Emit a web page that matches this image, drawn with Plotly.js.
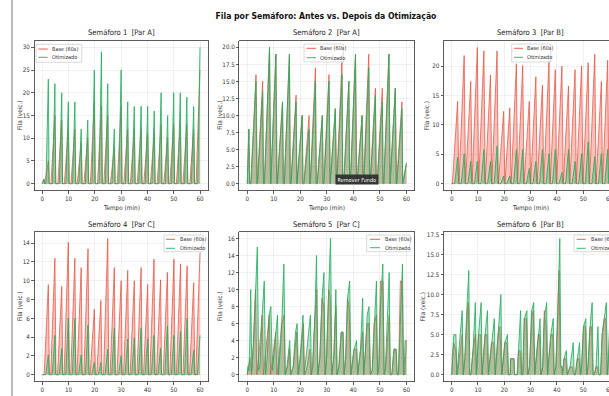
<!DOCTYPE html>
<html><head><meta charset="utf-8">
<script src="https://cdn.plot.ly/plotly-3.0.1.min.js"></script>
<style>html,body{margin:0;padding:0;overflow:hidden;background:#fff;width:609px;height:396px}#chart{width:650px;height:420px}</style>
</head><body><div id="chart"></div><script>
// ---------- data ----------
const seriesNames = ["Base (60s)", "Otimizado"];
const panelTitles = ["Semáforo 1 \u00a0[Par A]", "Semáforo 2 \u00a0[Par A]", "Semáforo 3 \u00a0[Par B]",
                     "Semáforo 4 \u00a0[Par C]", "Semáforo 5 \u00a0[Par C]", "Semáforo 6 \u00a0[Par B]"];
const xTicks = [0, 10, 20, 30, 40, 50, 60];

// Panel 1: peak times (min) and peak queue per cycle
const t1 = [0.6,2.3,4.8,7.4,9.9,12.4,14.8,17.3,19.8,22.5,24.9,27.4,30.0,32.5,35.0,37.6,40.1,42.6,45.2,47.7,50.0,52.5,55.0,57.6,60.0];
const base1 = [1,5,15,14,12,12,9,10,18,17,15,8,17,12,12,12,11,11,13,10,13,13,13,12,25];
const opt1  = [1,23,22,20,18,18,12,14,25,29,22,12,25,18,17,17,17,16,20,15,20,20,19,17,30];

// Panel 2
const t2 = [0.6,3.3,5.8,8.4,10.8,13.3,15.9,18.4,20.7,23.3,25.7,28.3,30.8,33.2,35.7,38.3,40.8,43.3,45.8,48.3,50.9,53.4,55.8,58.3,60.0];
const base2 = [8,16,15,20,19,12,19,13,10,10,17,10,16,11,18,15,19,10,19,14,14,19,14,12,3];
const opt2  = [8,15,13.5,20,19,12,19,12,10,8,15,10,15,11,16,15,19,10,17,13,12,19,14,11,3];

// Panel 3
const t3 = [2.25,4.75,7.25,9.75,12.25,14.75,17.25,19.75,22.1,24.6,27.0,29.5,32.0,34.5,37.0,39.4,41.9,44.4,46.9,49.4,51.9,54.4,56.9,59.3];
const base3 = [14,21.8,17.4,23.2,22.6,18.5,22.6,12.3,12.9,20.4,20.1,14,18.2,16.8,21,19.4,20,16.6,19.4,20,20.6,22,17.4,21];
const opt3  = [4.5,5.1,3.8,3.8,5.8,3.8,6.4,1.3,1.3,5.8,5.8,2.6,3.8,5.8,5.1,5.8,1.9,5.8,3.8,5.1,7.1,4.6,5.1,5.8];

// Panel 4
const t4 = [2.3,4.8,7.4,9.9,12.4,14.8,17.4,19.8,22.3,24.9,27.4,30.0,32.5,35.0,37.6,40.1,42.5,45.0,47.6,50.1,52.6,55.1,57.6,60.0];
const base4 = [9.6,12.4,9.4,14.1,12.4,11.4,13.4,7.0,7.9,14.5,11.4,10,11.1,10,11.4,9.6,12.3,10.1,10.9,12.3,11.8,11.6,9.8,13];
const opt4  = [2.1,4.2,2.8,6.0,6.0,2.1,5.3,1.3,1.3,2.7,5.0,2.0,3.8,3.9,5.0,3.8,4.2,2.8,5.2,4.2,4.6,6.0,2.6,4.2];

// Panel 5: irregular, [time, queue] vertices
const base5 = [[0,0],[0.5,1],[1.0,2],[1.6,0],[2.2,3],[3.1,10],[3.6,0],[4.6,3],[5.6,7],[6.1,0],[6.8,2],[7.6,5],[8.3,7],[8.8,0],[9.6,2],[10.7,5],[11.2,0],[12.0,2],[12.9,6],[13.9,7],[14.3,0],[15.2,1],[16.0,3],[16.3,0],[17.4,1],[18.6,5],[19.1,0],[19.9,2],[21.2,6],[21.6,0],[22.6,1],[23.6,3],[24.0,0],[24.6,1],[25.5,7],[26.2,10],[26.6,0],[27.3,2],[28.2,9],[28.9,8],[29.3,0],[29.9,2],[30.7,10],[31.3,9],[31.8,0],[32.6,2],[33.4,8],[33.8,0],[34.5,1],[35.4,5],[36.1,5],[36.5,0],[37.1,2],[37.8,9],[38.4,8],[39.0,0],[40.2,3],[41.2,3],[41.6,0],[42.6,3],[43.5,5],[43.9,0],[44.4,2],[45.2,6],[45.9,6],[46.4,0],[47.1,0.5],[47.8,6],[48.7,7],[49.1,0],[49.6,1],[50.2,11],[51.1,11],[51.6,0],[52.2,1],[53.5,7],[53.9,0],[54.5,0],[55.3,3],[56.1,3],[56.5,0],[57.0,0],[57.7,11],[58.4,11],[58.9,0],[59.4,0],[60,4]];
const opt5 = [[0,0],[0.3,1],[0.6,0.5],[0.9,3],[1.3,10],[1.7,0.5],[2.4,4],[3.0,8],[3.8,15],[4.3,0.5],[4.8,1],[5.6,7],[6.4,11],[6.9,0],[7.5,2],[8.2,7],[8.9,8],[9.5,0.5],[9.9,2],[10.7,5],[11.4,7],[11.8,0],[12.2,2],[12.9,5],[13.8,13],[14.3,0],[15.0,1],[16.0,4],[16.4,0],[17.3,1],[18.2,5],[18.8,6],[19.3,0],[20.0,2],[21.0,7],[21.4,0],[22.5,3],[23.8,7],[24.2,0],[24.7,1],[25.5,7],[26.1,14],[26.6,0],[27.4,2],[28.2,9],[28.9,12],[29.4,0],[29.9,2],[30.7,10],[31.4,16],[31.9,0],[32.6,2],[33.4,10],[33.9,0],[34.6,1],[35.4,5],[36.1,5],[36.5,0],[37.1,2],[37.8,9],[38.6,11],[39.1,0],[40.3,3],[41.2,4],[41.6,0],[42.7,3],[43.5,9],[43.9,0],[44.4,2],[45.2,7],[45.9,8],[46.4,0],[47.1,0.5],[47.8,6],[48.7,11],[49.1,0],[49.6,1],[50.2,8],[51.1,13],[51.6,0],[52.1,1],[53.5,12],[53.9,0],[54.5,0],[55.3,3],[56.1,3],[56.5,0],[57.0,0],[57.7,6],[58.5,13],[58.9,0],[59.1,0],[59.5,4],[60,4]];

// Panel 6
const base6 = [[0,0],[0.2,1],[0.8,4],[1.6,3],[2.0,0],[2.5,1],[3.5,4],[4.0,5],[4.4,0],[5.0,2],[5.8,7],[6.3,9],[6.8,0],[7.3,0],[8.1,3],[9.0,5],[9.4,0],[10.2,5],[11.0,5],[11.5,0],[12.7,5],[13.4,5],[13.9,0],[15.1,4],[16.0,4],[16.5,0],[17.6,5],[18.3,6],[19.0,0],[20.2,4],[21.0,4],[21.5,0],[22.2,0],[22.4,2],[23.7,2],[23.9,0],[24.9,0],[25.4,3],[26.0,3],[26.5,0],[27.0,0],[27.6,7],[28.4,7],[28.9,0],[29.6,1],[30.4,7],[31.0,8],[31.5,0],[32.9,5],[33.5,5],[33.9,0],[34.6,1],[35.2,8],[35.9,6],[36.4,0],[37.7,5],[38.4,5],[38.9,0],[39.6,1],[40.2,6],[40.8,13],[41.3,1],[41.9,1],[42.1,0],[42.7,2],[43.4,2],[43.9,0],[45.0,1],[45.8,1],[46.5,0],[47.0,0],[47.7,2],[48.4,2],[48.9,0],[49.4,1],[50.1,6],[50.8,6],[51.3,0],[51.8,1],[52.6,6],[53.2,6],[53.7,0],[54.2,0],[54.9,1],[55.5,1],[55.9,0],[56.6,0],[57.2,5],[58.0,7],[58.6,7],[59.1,0],[59.6,2],[60,5]];
const opt6 = [[0,0],[0.2,2],[0.8,5],[1.6,5],[2.0,0],[2.5,2],[3.5,5],[4.0,8],[4.4,0],[5.0,2],[5.6,7],[6.5,13],[6.9,0],[7.3,0],[8.1,3],[9.0,9],[9.4,0],[10.2,5],[11.2,9],[11.6,0],[12.7,5],[13.6,8],[14.0,0],[15.1,4],[16.2,7],[16.6,0],[17.6,5],[18.7,10],[19.1,0],[20.2,4],[21.2,5],[21.6,0],[22.2,0],[22.4,2],[23.7,2],[23.9,0],[24.9,0],[25.4,3],[26.2,8],[26.6,0],[27.0,0],[27.6,7],[28.6,8],[29.0,0],[29.6,1],[30.4,8],[31.2,9],[31.6,0],[32.9,5],[33.6,7],[34.0,0],[34.6,1],[35.2,7],[36.1,9],[36.5,0],[37.7,5],[38.6,7],[39.0,0],[39.6,1],[40.2,6],[41.1,17],[41.5,1],[41.9,1],[42.1,0],[42.7,2],[43.6,3],[44.0,0],[45.0,1],[46.2,4],[46.6,0],[47.0,0],[47.7,2],[48.6,4],[49.0,0],[49.4,1],[50.1,6],[51.0,7],[51.4,0],[51.8,1],[52.6,6],[53.4,9],[53.8,0],[54.2,0],[54.9,1],[55.6,6],[56.0,0],[56.6,0],[57.2,5],[58.1,7],[58.8,9],[59.2,0],[59.6,2],[60,6]];

// ---------- styling / layout ----------
const W = 650, H = 420;
const FONT = "'Liberation Sans Narrow', 'DejaVu Sans Condensed', 'Liberation Sans', Arial, sans-serif";
const RED = 'rgba(231,76,60,0.72)', RED_F = 'rgba(231,76,60,0.34)';
const GRN = 'rgba(39,174,96,0.85)', GRN_F = 'rgba(39,174,96,0.32)';
const px = x => x / W, py = y => 1 - y / H;
const cols = [[34.4, 207.9], [239.3, 414.4], [443.8, 617.4]];
const rows = [[40.5, 190.5], [231.7, 381.5]];
const yCfg = [
  {range: [-1.5, 31.5], dtick: 5, fmt: 'd'},
  {range: [-1, 21], dtick: 2.5, fmt: '.1f'},
  {range: [-1.16, 24.36], dtick: 5, fmt: 'd'},
  {range: [-0.725, 15.225], dtick: 2, fmt: 'd'},
  {range: [-0.8, 16.8], dtick: 2, fmt: 'd'},
  {range: [-0.85, 17.85], dtick: 2.5, fmt: '.1f'}
];
const yLabelOffset = [15, 20, 17, 15, 20, 21];
// cycle shape per panel: [base rise, base fall, opt rise, opt fall] in minutes
const shapeCfg = [[1.5, 0.35, 0.9, 0.3], [2.0, 0.3, 1.9, 0.3], [2.0, 0.45, 1.1, 0.4], [1.6, 0.4, 1.0, 0.35]];

function cycles(times, peaks, rise, fall) {
  const x = [0], y = [0];
  for (let i = 0; i < times.length; i++) {
    const s = Math.max(times[i] - rise, x[x.length - 1]);
    x.push(s); y.push(0);
    x.push(times[i]); y.push(peaks[i]);
    if (times[i] + fall <= 60) { x.push(times[i] + fall); y.push(0); }
  }
  return {x, y};
}
const fromPairs = p => ({x: p.map(d => d[0]), y: p.map(d => d[1])});

const panels = [
  [cycles(t1, base1, shapeCfg[0][0], shapeCfg[0][1]), cycles(t1, opt1, shapeCfg[0][2], shapeCfg[0][3])],
  [cycles(t2, base2, shapeCfg[1][0], shapeCfg[1][1]), cycles(t2, opt2, shapeCfg[1][2], shapeCfg[1][3])],
  [cycles(t3, base3, shapeCfg[2][0], shapeCfg[2][1]), cycles(t3, opt3, shapeCfg[2][2], shapeCfg[2][3])],
  [cycles(t4, base4, shapeCfg[3][0], shapeCfg[3][1]), cycles(t4, opt4, shapeCfg[3][2], shapeCfg[3][3])],
  [fromPairs(base5), fromPairs(opt5)],
  [fromPairs(base6), fromPairs(opt6)]
];

const traces = [];
const layout = {
  width: W, height: H, margin: {l: 0, r: 0, t: 0, b: 0},
  paper_bgcolor: '#fff', plot_bgcolor: '#fff', showlegend: false,
  font: {family: FONT, color: '#262626'},
  title: {text: '<b>Fila por Semáforo: Antes vs. Depois da Otimização</b>', x: px(326), y: py(16),
          xanchor: 'center', yanchor: 'middle', font: {family: FONT, size: 8.6, color: '#111'}},
  annotations: [], shapes: []
};

panels.forEach((pn, i) => {
  const k = i + 1, sfx = k === 1 ? '' : String(k);
  const c = cols[i % 3], r = rows[Math.floor(i / 3)];
  const cfg = yCfg[i];
  traces.push({x: pn[0].x, y: pn[0].y, type: 'scatter', mode: 'lines', name: seriesNames[0],
    line: {color: RED, width: 1}, fill: 'tozeroy', fillcolor: RED_F, xaxis: 'x' + sfx, yaxis: 'y' + sfx});
  traces.push({x: pn[1].x, y: pn[1].y, type: 'scatter', mode: 'lines', name: seriesNames[1],
    line: {color: GRN, width: 1}, fill: 'tozeroy', fillcolor: GRN_F, xaxis: 'x' + sfx, yaxis: 'y' + sfx});
  const common = {showline: true, mirror: true, linecolor: '#333', linewidth: 0.8, ticks: 'outside', ticklen: 2.5,
    tickwidth: 0.8, tickcolor: '#333', showgrid: true, gridcolor: 'rgba(0,0,0,0.09)', gridwidth: 0.6,
    zeroline: false, automargin: false, tickfont: {family: FONT, size: 6.2, color: '#333'}};
  layout['xaxis' + sfx] = Object.assign({}, common, {domain: [px(c[0]), px(c[1])], range: [-3, 63],
    tickvals: xTicks, anchor: 'y' + sfx});
  layout['yaxis' + sfx] = Object.assign({}, common, {domain: [py(r[1]), py(r[0])], range: cfg.range,
    dtick: cfg.dtick, tick0: 0, tickformat: cfg.fmt, anchor: 'x' + sfx});
  const cx = (c[0] + c[1]) / 2;
  layout.annotations.push({text: panelTitles[i], xref: 'paper', yref: 'paper', x: px(cx), y: py(r[0] - 7.5),
    xanchor: 'center', yanchor: 'middle', showarrow: false, font: {family: FONT, size: 7.6, color: '#222'}});
  layout.annotations.push({text: 'Fila (veíc.)', xref: 'paper', yref: 'paper', x: px(c[0] - yLabelOffset[i]), y: py((r[0] + r[1]) / 2),
    textangle: -90, xanchor: 'center', yanchor: 'middle', showarrow: false, font: {family: FONT, size: 6.4, color: '#333'}});
  layout.annotations.push({text: 'Tempo (min)', xref: 'paper', yref: 'paper', x: px(cx), y: py(r[1] + 17.5),
    xanchor: 'center', yanchor: 'middle', showarrow: false, font: {family: FONT, size: 6.4, color: '#333'}});
});

// legends (matplotlib-like boxes): [boxX0, boxY0, boxX1, boxY1, row1Y, row2Y, lineX0, lineX1, textX]
const legendBoxes = [
  [36, 44.3, 81.7, 62.3, 49, 57.3, 38.3, 47.7, 50],
  [304, 44, 343.3, 62, 48.3, 57.7, 306.7, 316, 318],
  [511.7, 44, 550.7, 62, 48.3, 57.3, 514, 523, 525],
  [164, 235, 203, 251.7, 239.3, 248.3, 166, 175, 178],
  [366.7, 235, 410, 251.7, 239.3, 247.7, 370, 380, 383.3],
  [574, 235, 617, 251.7, 239.3, 248.3, 576.7, 585.7, 589.3]
];
legendBoxes.forEach(b => {
  layout.shapes.push({type: 'rect', xref: 'paper', yref: 'paper', x0: px(b[0]), x1: px(b[2]), y0: py(b[3]), y1: py(b[1]),
    line: {color: '#d0d0d0', width: 0.8}, fillcolor: 'rgba(255,255,255,0.85)'});
  [[b[4], 'rgba(231,76,60,0.9)', seriesNames[0]], [b[5], 'rgba(39,174,96,0.9)', seriesNames[1]]].forEach(e => {
    layout.shapes.push({type: 'line', xref: 'paper', yref: 'paper', x0: px(b[6]), x1: px(b[7]), y0: py(e[0]), y1: py(e[0]),
      line: {color: e[1], width: 1}});
    layout.annotations.push({text: e[2], xref: 'paper', yref: 'paper', x: px(b[8]), y: py(e[0]), xanchor: 'left',
      yanchor: 'middle', showarrow: false, font: {family: FONT, size: 5.5, color: '#333'}});
  });
});

// screenshot artefacts: left border line and tooltip
layout.shapes.push({type: 'line', xref: 'paper', yref: 'paper', x0: px(12), x1: px(12), y0: 0, y1: 1,
  line: {color: '#777', width: 1}});
layout.annotations.push({text: 'Remover Fundo', xref: 'paper', yref: 'paper', x: px(357), y: py(179.5),
  xanchor: 'center', yanchor: 'middle', showarrow: false, bgcolor: 'rgba(45,45,45,0.92)', borderpad: 1.5,
  font: {family: FONT, size: 5.5, color: '#fff'}});

Plotly.newPlot('chart', traces, layout, {staticPlot: true, displayModeBar: false});
</script></body></html>
